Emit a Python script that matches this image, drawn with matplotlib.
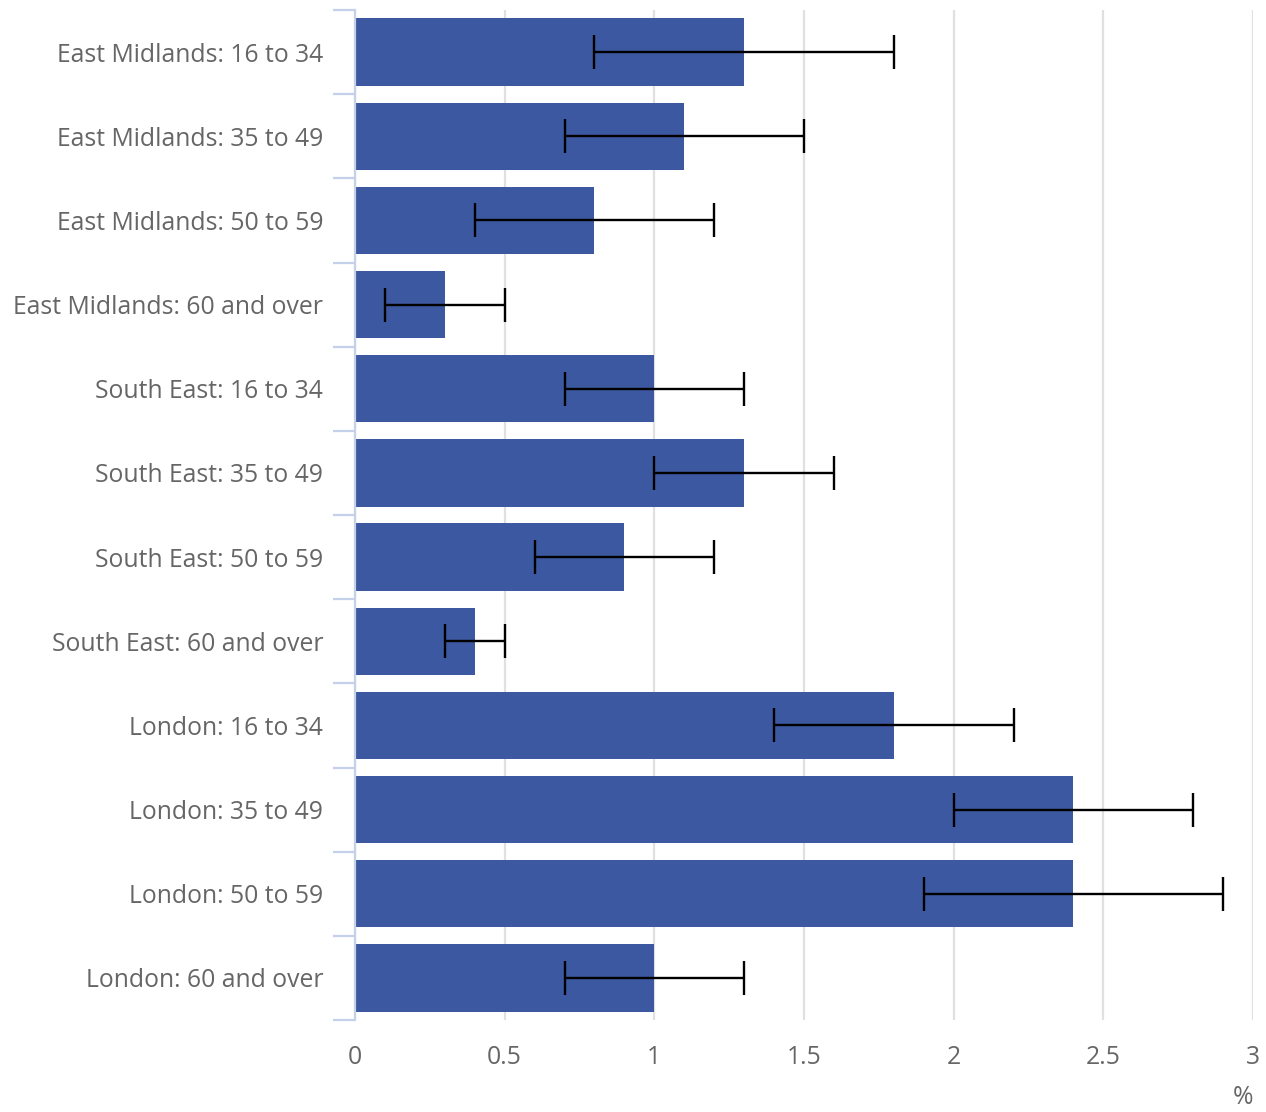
import numpy as np
import matplotlib.pyplot as plt
from matplotlib.ticker import FixedLocator

plt.rcParams['font.family'] = ['Open Sans', 'DejaVu Sans']

labels = [
    "East Midlands: 16 to 34", "East Midlands: 35 to 49",
    "East Midlands: 50 to 59", "East Midlands: 60 and over",
    "South East: 16 to 34", "South East: 35 to 49",
    "South East: 50 to 59", "South East: 60 and over",
    "London: 16 to 34", "London: 35 to 49",
    "London: 50 to 59", "London: 60 and over",
]
values = [1.3, 1.1, 0.8, 0.3, 1.0, 1.3, 0.9, 0.4, 1.8, 2.4, 2.4, 1.0]
lower = [0.8, 0.7, 0.4, 0.1, 0.7, 1.0, 0.6, 0.3, 1.4, 2.0, 1.9, 0.7]
upper = [1.8, 1.5, 1.2, 0.5, 1.3, 1.6, 1.2, 0.5, 2.2, 2.8, 2.9, 1.3]
xticks = [0, 0.5, 1, 1.5, 2, 2.5, 3]
xtick_labels = ["0", "0.5", "1", "1.5", "2", "2.5", "3"]

text_col = "#666666"
axis_col = "#c5d1ea"
bar_col = "#3c58a0"

fig = plt.figure(figsize=(12.66, 11.12), dpi=100)
ax = fig.add_axes([0.2804, 0.0827, 0.7093, 0.9083])

y = np.arange(len(labels))
vals = np.array(values)
err = np.array([vals - np.array(lower), np.array(upper) - vals])

ax.barh(y, vals, height=0.8, color=bar_col, zorder=2)
ax.errorbar(vals, y, xerr=err, fmt='none', ecolor='black', elinewidth=1.7,
            capsize=12, capthick=1.7, zorder=3)

ax.set_xlim(0, 3)
ax.set_ylim(len(labels) - 0.5, -0.5)
ax.set_xticks(xticks)
ax.set_xticklabels(xtick_labels)
ax.grid(axis='x', color='#e0e0e0', linewidth=1.6, zorder=0)

ax.set_yticks(y)
ax.set_yticklabels(labels)
# short separators between the category bands
ax.yaxis.set_minor_locator(FixedLocator(np.arange(-0.5, len(labels), 1.0)))
ax.tick_params(axis='y', which='major', length=0, pad=23, labelsize=17.8,
               labelcolor=text_col)
ax.tick_params(axis='y', which='minor', length=16, width=1.6, color=axis_col)
ax.tick_params(axis='x', length=0, pad=18, labelsize=17.8, labelcolor=text_col)

for s in ['top', 'right', 'bottom']:
    ax.spines[s].set_visible(False)
ax.spines['left'].set_color(axis_col)
ax.spines['left'].set_linewidth(1.6)

ax.text(0.989, -0.077, "%", transform=ax.transAxes, ha='center', va='center',
        fontsize=17.8, color=text_col)

fig.savefig("out.png", dpi=100)
